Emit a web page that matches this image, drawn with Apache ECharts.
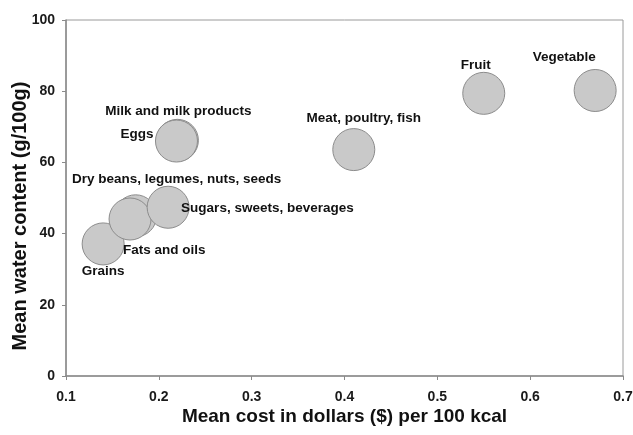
<!DOCTYPE html>
<html>
<head>
<meta charset="utf-8">
<script src="https://cdn.jsdelivr.net/npm/echarts@6/dist/echarts.min.js"></script>
<style>html,body{margin:0;padding:0;background:#fff}#c{width:633px;height:435px}</style>
</head>
<body>
<div id="c"></div>
<script>
// Data
const categories = ["Grains", "Dry beans, legumes, nuts, seeds", "Fats and oils", "Sugars, sweets, beverages", "Milk and milk products", "Eggs", "Meat, poultry, fish", "Fruit", "Vegetable"];
const costPer100kcal = [0.14, 0.175, 0.169, 0.21, 0.22, 0.219, 0.41, 0.55, 0.67];
const waterContent = [37.1, 45.0, 44.1, 47.4, 66.2, 66.0, 63.6, 79.4, 80.2];
const xTicks = [0.1, 0.2, 0.3, 0.4, 0.5, 0.6, 0.7];
const yTicks = [0, 20, 40, 60, 80, 100];

// Label placement (styling, in pixels relative to bubble centre)
const labelStyles = {
  "Grains": { offset: [0, 27], align: "center" },
  "Dry beans, legumes, nuts, seeds": { offset: [41, -37], align: "center" },
  "Fats and oils": { offset: [-7, 31], align: "left" },
  "Sugars, sweets, beverages": { offset: [13, 1], align: "left" },
  "Milk and milk products": { offset: [1, -29], align: "center" },
  "Eggs": { offset: [-23, -7], align: "right" },
  "Meat, poultry, fish": { offset: [10, -31], align: "center" },
  "Fruit": { offset: [-8, -28], align: "center" },
  "Vegetable": { offset: [-31, -33], align: "center" }
};

const data = categories.map((name, i) => {
  const ls = labelStyles[name];
  return {
    name: name,
    value: [costPer100kcal[i], waterContent[i]],
    label: { position: "inside", offset: ls.offset, align: ls.align, verticalAlign: "middle" }
  };
});

const font = "'Liberation Sans', Arial, sans-serif";
const chart = echarts.init(document.getElementById('c'), null, { renderer: 'canvas' });
chart.setOption({
  animation: false,
  backgroundColor: '#fff',
  grid: { left: 66, right: 10, top: 20, bottom: 59, containLabel: false, outerBoundsMode: 'none',
    show: true, borderColor: '#9a9a9a', borderWidth: 1 },
  xAxis: {
    type: 'value', min: xTicks[0], max: xTicks[xTicks.length - 1], interval: 0.1,
    name: 'Mean cost in dollars ($) per 100 kcal', nameLocation: 'middle', nameGap: 31, nameMoveOverlap: false,
    nameTextStyle: { fontFamily: font, fontWeight: 'bold', fontSize: 19, color: '#111' },
    axisLine: { show: true, lineStyle: { color: '#8a8a8a', width: 1.5 } },
    axisTick: { show: true, length: 4, lineStyle: { color: '#8a8a8a' } },
    axisLabel: { fontFamily: font, fontWeight: 'bold', fontSize: 14, color: '#1a1a1a', margin: 14,
      formatter: v => (Math.round(v * 10) / 10).toString() },
    splitLine: { show: false }
  },
  yAxis: {
    type: 'value', min: yTicks[0], max: yTicks[yTicks.length - 1], interval: 20,
    name: 'Mean water content (g/100g)', nameLocation: 'middle', nameGap: 36, nameMoveOverlap: false,
    nameTextStyle: { fontFamily: font, fontWeight: 'bold', fontSize: 20, color: '#111', padding: [0, 36, 0, 0] },
    axisLine: { show: true, lineStyle: { color: '#8a8a8a', width: 1.5 } },
    axisTick: { show: true, length: 4, lineStyle: { color: '#8a8a8a' } },
    axisLabel: { fontFamily: font, fontWeight: 'bold', fontSize: 14, color: '#1a1a1a', margin: 11 },
    splitLine: { show: false }
  },
  series: [{
    type: 'scatter',
    symbol: 'circle',
    symbolSize: 42,
    itemStyle: { color: '#c9c9c9', borderColor: '#8c8c8c', borderWidth: 1, opacity: 1 },
    label: { show: true, formatter: '{b}', fontFamily: font, fontWeight: 'bold', fontSize: 13.5, color: '#111' },
    data: data
  }]
});
</script>
</body>
</html>
